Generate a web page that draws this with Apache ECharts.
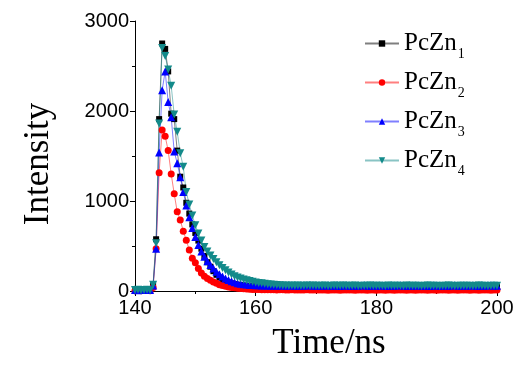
<!DOCTYPE html>
<html>
<head>
<meta charset="utf-8">
<script src="https://cdn.jsdelivr.net/npm/echarts@6/dist/echarts.min.js"></script>
<style>
  html, body { margin: 0; padding: 0; background: #fff; }
  #chart { width: 527px; height: 377px; }
</style>
</head>
<body>
<div id="chart"></div>
<script>
// sampling: 140 ns to 200 ns, every 0.5 ns
const tStart = 140
const tStep = 0.5

const names = ['PcZn1', 'PcZn2', 'PcZn3', 'PcZn4']
const subs = ['1', '2', '3', '4']
const colors = ['#000000', '#ff0000', '#0000ff', '#138a8a']

const pcZn1 = [
  8, 10, 7, 12, 9, 14, 75, 575, 1910, 2750,
  2690, 2440, 1970, 1910, 1560, 1270, 1150, 980, 860, 740,
  645, 560, 470, 390, 320, 270, 220, 180, 150, 125,
  108, 95, 85, 76, 70, 65, 61, 58, 55, 53,
  52,
  50, 49, 51, 48, 50, 47, 49, 52, 48, 46,
  50, 49, 47, 51, 48, 50, 46, 49, 52, 47,
  48, 50, 46, 49, 51, 48, 47, 50, 49, 46,
  51, 48, 50, 47, 49, 52, 46, 48, 50, 47,
  49, 51, 48, 46, 50, 49, 47, 52, 48, 50,
  46, 49, 51, 47, 48, 50, 49, 46, 52, 48,
  47, 50, 49, 51, 46, 48, 50, 47, 49, 52,
  48, 46, 50, 49, 47, 51, 48, 50, 46, 49
]

const pcZn2 = [
  4, 6, 3, 5, 7, 4, 40, 470, 1315, 1790,
  1720, 1560, 1300, 1080, 880, 790, 665, 565, 455, 365,
  315, 250, 200, 165, 140, 120, 100, 85, 70, 60,
  52, 45, 40, 35, 30, 27, 24, 22, 20, 18,
  17,
  16, 15, 14, 15, 13, 14, 12, 13, 14, 12,
  11, 13, 12, 10, 12, 11, 13, 10, 12, 11,
  10, 12, 11, 9, 11, 10, 12, 9, 11, 10,
  12, 10, 9, 11, 10, 12, 9, 10, 11, 9,
  10, 12, 9, 11, 10, 9, 11, 10, 12, 9,
  10, 11, 9, 10, 12, 10, 9, 11, 10, 9,
  11, 10, 12, 9, 10, 11, 9, 10, 12, 10,
  9, 11, 10, 9, 12, 10, 11, 9, 10, 11
]

const pcZn3 = [
  12, 9, 15, 11, 13, 10, 60, 470, 1540, 2230,
  2440, 2100, 1930, 1550, 1420, 1265, 1100, 950, 820, 700,
  600, 510, 440, 380, 330, 290, 250, 215, 185, 160,
  140, 122, 108, 96, 87, 80, 75, 71, 68, 66,
  64,
  63, 62, 60, 61, 59, 62, 58, 60, 61, 57,
  60, 62, 58, 59, 61, 57, 60, 63, 58, 59,
  61, 57, 60, 62, 58, 59, 61, 56, 60, 62,
  58, 59, 61, 57, 60, 63, 58, 59, 61, 57,
  60, 62, 58, 59, 61, 57, 60, 63, 58, 59,
  61, 57, 60, 62, 58, 59, 61, 56, 60, 62,
  58, 59, 61, 57, 60, 63, 58, 59, 61, 57,
  60, 62, 58, 59, 61, 57, 60, 63, 58, 59
]

const pcZn4 = [
  10, 13, 8, 11, 14, 9, 70, 530, 1860, 2700,
  2610, 2460, 2280, 1960, 1770, 1530, 1380, 1100, 960, 840,
  730, 640, 560, 490, 440, 395, 355, 320, 285, 255,
  230, 205, 182, 165, 150, 138, 128, 120, 110, 102,
  95, 90, 85, 80, 76, 72, 69, 66, 64, 62,
  60, 59, 61, 58, 60, 57, 59, 61, 58, 60,
  57, 59, 58, 60, 56, 59, 61, 57, 58, 60,
  59, 57, 58, 60, 56, 59, 58, 57, 60, 58,
  59, 57, 58, 56, 60, 58, 57, 59, 58, 56,
  60, 57, 58, 59, 57, 56, 58, 60, 57, 58,
  59, 56, 58, 57, 60, 58, 56, 59, 57, 58,
  57, 59, 56, 58, 60, 57, 58, 56, 59, 57,
  58
]

const xTicks = [140, 160, 180, 200]
const yTicks = [0, 1000, 2000, 3000]

const allValues = [pcZn1, pcZn2, pcZn3, pcZn4]
const symbols = ['rect', 'circle', 'triangle', 'triangle']
const symbolSizes = [6, 7, 8, 8]
const rotates = [0, 0, 0, 180]

const toPairs = (vals) => vals.map((v, i) => [tStart + i * tStep, v])

const myChart = echarts.init(document.getElementById('chart'))

const option = {
  backgroundColor: '#fff',
  animation: false,
  grid: { left: 135, right: 30, top: 21, bottom: 86 },
  legend: {
    orient: 'vertical',
    left: 359,
    top: 26,
    itemWidth: 34,
    itemHeight: 8,
    itemGap: 9,
    data: names,
    formatter: (name) => '{a|PcZn}{s|' + subs[names.indexOf(name)] + '}',
    textStyle: {
      color: '#000',
      fontFamily: 'Liberation Serif',
      rich: {
        a: { fontSize: 25, lineHeight: 25, verticalAlign: 'top', fontFamily: 'Liberation Serif', color: '#000' },
        s: { fontSize: 14, lineHeight: 14, verticalAlign: 'top', padding: [16, 0, 0, 1], fontFamily: 'Liberation Serif', color: '#000' }
      }
    }
  },
  xAxis: {
    type: 'value',
    min: 140,
    max: 200,
    interval: 20,
    name: 'Time/ns',
    nameLocation: 'middle',
    nameGap: 35,
    nameTextStyle: { fontFamily: 'Liberation Serif', fontSize: 35, color: '#000', padding: [0, 0, 0, 26] },
    axisLine: { lineStyle: { color: '#000', width: 1 } },
    axisTick: { length: 5, lineStyle: { color: '#000' } },
    minorTick: { show: true, splitNumber: 2, length: 3, lineStyle: { color: '#000' } },
    axisLabel: {
      fontFamily: 'Liberation Sans', fontSize: 20, color: '#000', margin: 7,
      formatter: (v) => (xTicks.includes(v) ? String(v) : '')
    },
    splitLine: { show: false }
  },
  yAxis: {
    type: 'value',
    min: 0,
    max: 3000,
    interval: 1000,
    name: 'Intensity',
    nameLocation: 'middle',
    nameGap: 79,
    nameTextStyle: { fontFamily: 'Liberation Serif', fontSize: 35, color: '#000', padding: [0, 16, 0, 0] },
    axisLine: { show: true, lineStyle: { color: '#000', width: 1 } },
    axisTick: { show: true, length: 5, lineStyle: { color: '#000' } },
    minorTick: { show: true, splitNumber: 2, length: 3, lineStyle: { color: '#000' } },
    axisLabel: {
      fontFamily: 'Liberation Sans', fontSize: 20, color: '#000', margin: 6,
      formatter: (v) => (yTicks.includes(v) ? String(v) : '')
    },
    splitLine: { show: false }
  },
  series: names.map((name, k) => ({
    name: name,
    type: 'line',
    data: toPairs(allValues[k]),
    symbol: symbols[k],
    symbolSize: symbolSizes[k],
    symbolRotate: rotates[k],
    showAllSymbol: true,
    color: colors[k],
    itemStyle: { color: colors[k] },
    lineStyle: { color: colors[k], width: 1, opacity: 0.5 },
    emphasis: { disabled: true }
  }))
}

myChart.setOption(option)
</script>
</body>
</html>
